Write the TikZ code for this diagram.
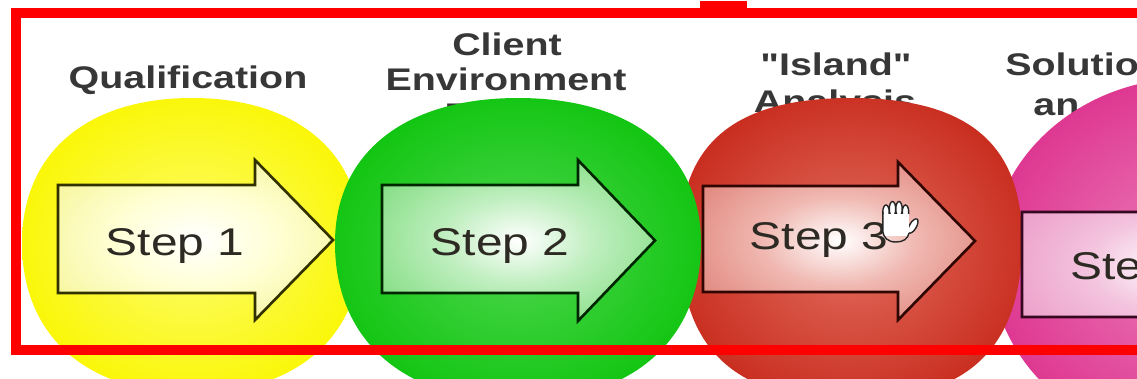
\documentclass[tikz,border=0pt]{standalone}
\usepackage{fontspec}
\setmainfont{Liberation Sans}
\newfontfamily\qfont{Liberation Sans}[Ligatures=TeXOff]
\usepackage{graphicx}
\newcommand\wide[2][1.26]{\scalebox{#1}[1]{#2}}
\definecolor{frameRed}{RGB}{255,0,0}
\definecolor{yelEdge}{RGB}{250,246,0}
\definecolor{yelMid}{RGB}{253,253,110}
\definecolor{grnEdge}{RGB}{0,192,0}
\definecolor{grnMid}{RGB}{80,215,80}
\definecolor{redEdge}{RGB}{192,24,10}
\definecolor{redMid}{RGB}{226,110,95}
\definecolor{pnkEdge}{RGB}{216,26,128}
\definecolor{pnkMid}{RGB}{236,125,185}
\definecolor{yA1}{RGB}{255,255,215}
\definecolor{yA2}{RGB}{242,240,120}
\definecolor{gA1}{RGB}{190,238,190}
\definecolor{gA2}{RGB}{85,208,85}
\definecolor{rA1}{RGB}{240,185,178}
\definecolor{rA2}{RGB}{212,95,84}
\definecolor{pA1}{RGB}{243,195,222}
\definecolor{pA2}{RGB}{230,125,182}
\definecolor{headGray}{RGB}{55,55,55}
\definecolor{stepGray}{RGB}{45,42,35}
\pgfdeclareradialshading{yelS}{\pgfpoint{0bp}{0bp}}{color(0bp)=(yelMid); color(28bp)=(yelEdge); color(72bp)=(yelEdge)}
\pgfdeclareradialshading{grnS}{\pgfpoint{0bp}{0bp}}{color(0bp)=(grnMid); color(34bp)=(grnEdge); color(72bp)=(grnEdge)}
\pgfdeclareradialshading{redS}{\pgfpoint{0bp}{0bp}}{color(0bp)=(redMid); color(36bp)=(redEdge); color(72bp)=(redEdge)}
\pgfdeclareradialshading{pnkS}{\pgfpoint{0bp}{0bp}}{color(0bp)=(pnkMid); color(36bp)=(pnkEdge); color(72bp)=(pnkEdge)}
\pgfdeclareradialshading{yAS}{\pgfpoint{0bp}{0bp}}{color(0bp)=(white); color(14bp)=(yA1); color(42bp)=(yA2); color(72bp)=(yA2)}
\pgfdeclareradialshading{gAS}{\pgfpoint{0bp}{0bp}}{color(0bp)=(white); color(14bp)=(gA1); color(44bp)=(gA2); color(72bp)=(gA2)}
\pgfdeclareradialshading{rAS}{\pgfpoint{0bp}{0bp}}{color(0bp)=(white); color(14bp)=(rA1); color(44bp)=(rA2); color(72bp)=(rA2)}
\pgfdeclareradialshading{pAS}{\pgfpoint{0bp}{0bp}}{color(0bp)=(white); color(14bp)=(pA1); color(44bp)=(pA2); color(72bp)=(pA2)}
% #1 shading, #2 cx, #3 cy, #4 rx, #5 rtop, #6 rbot, #7 k
\newcommand\myblob[7]{%
  \path[shade, shading=#1] ({#2-#4},#3)
    .. controls ({#2-#4},{#3-#7*#5}) and ({#2-#7*#4},{#3-#5}) .. (#2,{#3-#5})
    .. controls ({#2+#7*#4},{#3-#5}) and ({#2+#4},{#3-#7*#5}) .. ({#2+#4},#3)
    .. controls ({#2+#4},{#3+#7*#6}) and ({#2+#7*#4},{#3+#6}) .. (#2,{#3+#6})
    .. controls ({#2-#7*#4},{#3+#6}) and ({#2-#4},{#3+#7*#6}) .. cycle;}
% #1 shading, #2 draw colour, #3 left, #4 body top, #5 body bottom, #6 neck x, #7 head top, #8 head bottom, #9 tip x
\newcommand\myarrow[9]{%
  \path[shade, shading=#1] (#3,#4) -- (#6,#4) -- (#6,#7) -- (#9,{(#7+#8)/2}) -- (#6,#8) -- (#6,#5) -- (#3,#5) -- cycle;
  \draw[arrowline, draw=#2] (#3,#4) -- (#6,#4) -- (#6,#7) -- (#9,{(#7+#8)/2}) -- (#6,#8) -- (#6,#5) -- (#3,#5) -- cycle;}
\begin{document}
\begin{tikzpicture}[x=0.02cm, y=-0.02cm,
  head/.style={inner sep=0pt, text=headGray, font=\fontsize{17.8pt}{20pt}\selectfont\bfseries},
  steptext/.style={inner sep=0pt, text=stepGray, font=\fontsize{22pt}{24pt}\selectfont},
  arrowline/.style={line width=1.5pt, line join=miter},
  frame/.style={draw=frameRed, line width=5.8pt, line join=miter},
  hand/.style={fill=white, draw=black!85, line width=0.8pt}]
\useasboundingbox (0,0) rectangle (1137,379);
\clip (0,0) rectangle (1137,379);
\fill[white] (0,0) rectangle (1137,379);
% headings
\node[head, anchor=base] (h1) at (188,88) {\wide{Qualification}};
\node[head, anchor=base] (h2a) at (507,55) {\wide{Client}};
\node[head, anchor=base] (h2b) at (506,90) {\wide{Environment}};
\node[head, anchor=base] (h2c) at (506,125) {\wide{Profile}};
\node[head, anchor=base] (h3a) at (836,75) {\wide{\qfont\bfseries "Island"}};
\node[head, anchor=base] (h3b) at (835,112) {\wide{Analysis}};
\node[head, anchor=base west] (h4a) at (1005,75) {\wide{Solutions}};
\node[head, anchor=base west] (h4b) at (1033,115) {\wide{an}};
% circles
\myblob{yelS}{192}{243}{170}{145}{150}{0.62}
\myblob{pnkS}{1190}{258}{200}{180}{185}{0.552}
\myblob{redS}{851}{240}{171}{142}{160}{0.68}
\myblob{grnS}{518}{243}{183}{145}{158}{0.62}
% arrows
\myarrow{yAS}{black!80!yelEdge}{58}{185}{293}{255}{160}{320}{333}
\myarrow{gAS}{black!80!grnEdge}{382}{185}{293}{578}{160}{321}{655}
\myarrow{rAS}{black!75!redEdge}{703}{186}{292}{898}{162}{320}{975}
\myarrow{pAS}{black!75!pnkEdge}{1022}{212}{317}{1240}{180}{350}{1320}
% step labels
\node[steptext, anchor=base] (s1) at (175,255) {\wide[1.24]{Step 1}};
\node[steptext, anchor=base] (s2) at (500,255) {\wide[1.24]{Step 2}};
\node[steptext, anchor=base] (s3) at (819,249) {\wide[1.24]{Step 3}};
\node[steptext, anchor=base west] (s4) at (1070,279) {\wide[1.24]{Step 4}};
% hand cursor
\filldraw[hand] (886,212) ellipse (3.2 and 7) (892.5,209) ellipse (3.2 and 7.5) (899,209) ellipse (3.2 and 7.5) (905.5,212) ellipse (3.2 and 7);
\filldraw[hand, rotate around={-30:(913,226)}] (913,226) ellipse (3.5 and 8);
\fill[white] (883,214) rectangle (909,236);
\draw[hand, fill=none] (882.8,212) -- (882.8,230) .. controls (883,238) and (888,242) .. (896,242) .. controls (903,242) and (908,239) .. (909,233);
% red frame
\draw[frame] (1150,13) -- (16,13) -- (16,350) -- (1150,350);
\fill[frameRed] (700,1) rectangle (747,10);
\end{tikzpicture}
\end{document}
